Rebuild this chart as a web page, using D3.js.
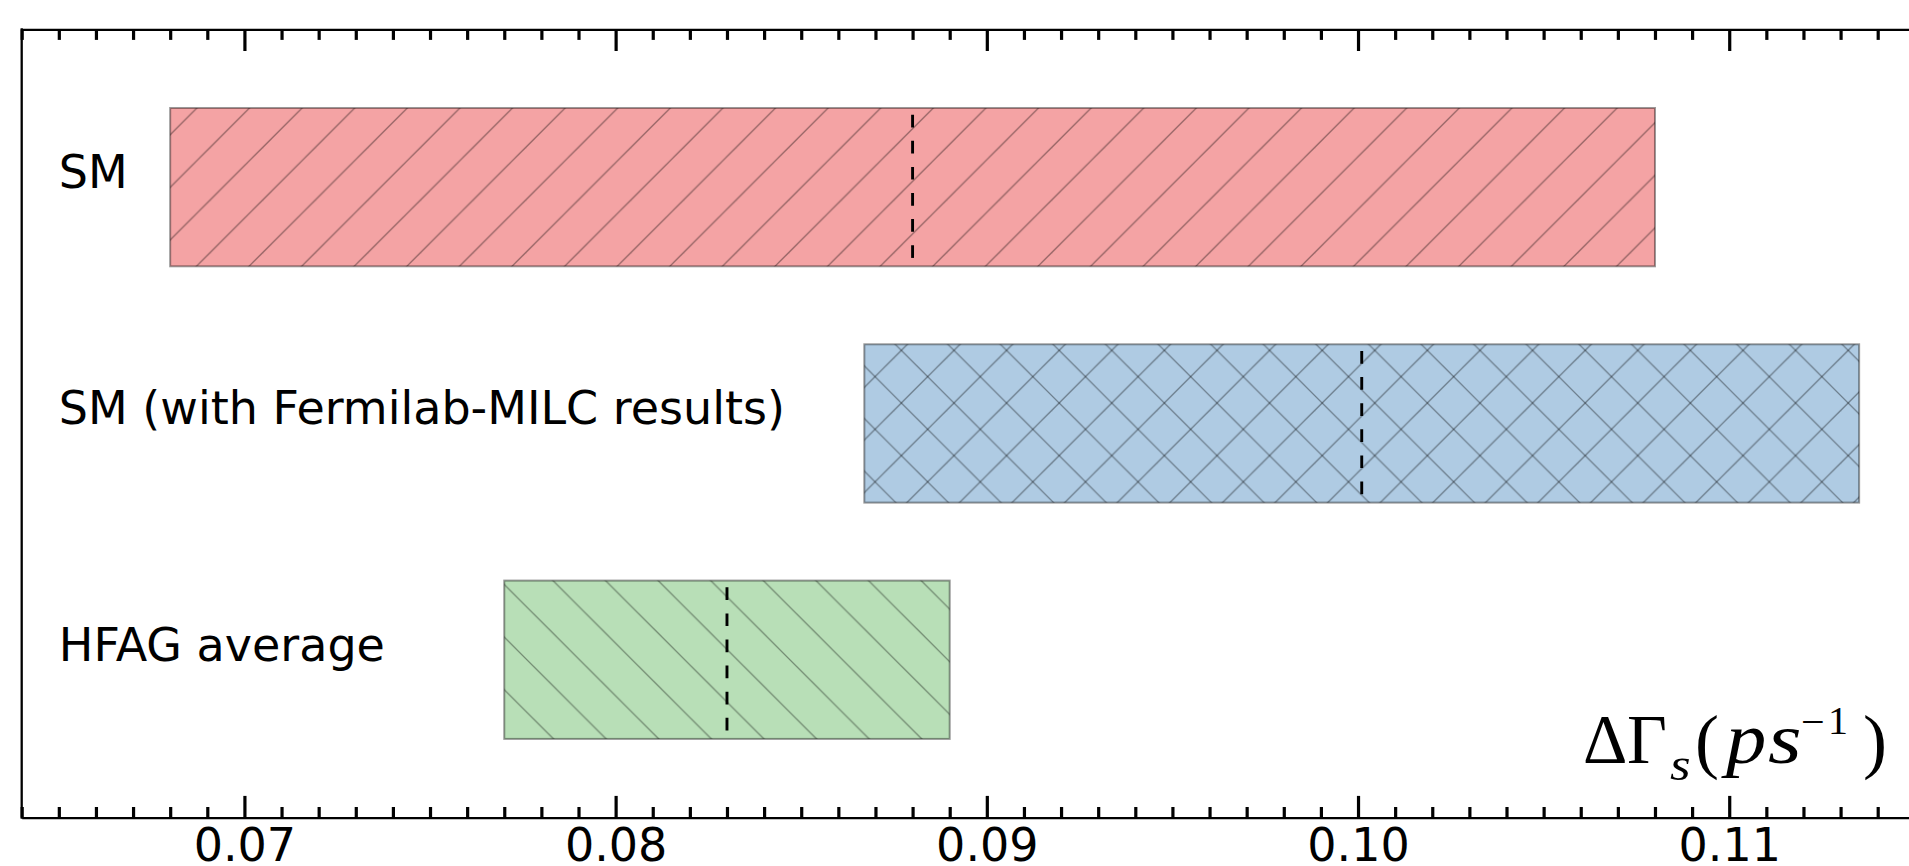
<!DOCTYPE html>
<html><head><meta charset="utf-8">
<script src="https://cdn.jsdelivr.net/npm/d3@7"></script>
<style>html,body{margin:0;padding:0;background:#fff;} svg{display:block;}</style>
</head><body>
<svg id="chart" width="1909" height="866"></svg>
<script>
// ---- data ----
const categories = ["SM", "SM (with Fermilab-MILC results)", "HFAG average"];
const centralValues = [0.088, 0.1001, 0.083];
const lowValues = [0.068, 0.0867, 0.077];
const highValues = [0.108, 0.1135, 0.089];
const barColors = ["#e41a1c", "#377eb8", "#4daf4a"];
const hatchStyles = ["/", "x", "\\"];
const majorTickValues = [0.07, 0.08, 0.09, 0.10, 0.11];
const tickLabels = ["0.07", "0.08", "0.09", "0.10", "0.11"];
const xDomain = [0.064, 0.115];
const labelX = 0.065;

// ---- layout ----
const svg = d3.select("#chart");
const plotLeft = 21.7, plotTop = 29.3, plotBottom = 817.6;
const pxPerMilli = 37.12;
const x = d3.scaleLinear().domain(xDomain).range([plotLeft, plotLeft + (xDomain[1]-xDomain[0])*1000*pxPerMilli]);
const y = d3.scaleBand().domain(categories).range([plotTop, plotBottom]).paddingInner(0.33).paddingOuter(0.333);
const bw = y.bandwidth();

// ---- hatch patterns ----
const P = 52.6;
const defs = svg.append("defs");
function addHatch(id, style) {
  const pat = defs.append("pattern").attr("id", id)
    .attr("patternUnits", "userSpaceOnUse").attr("width", P).attr("height", P);
  const dirs = style === "x" ? ["/", "\\"] : [style];
  dirs.forEach(dir => {
    [-1, 0, 1, 2].forEach(k => {
      let d;
      if (dir === "/") { const c = 41.9 + k*P - P; d = `M${-P},${c+P}L${2*P},${c-2*P}`; }
      else { const c = 25 + k*P - P; d = `M${-P},${-P-c}L${2*P},${2*P-c}`; }
      pat.append("path").attr("d", d).attr("stroke", "#000").attr("stroke-opacity", 0.38)
        .attr("stroke-width", 1.3).attr("fill", "none");
    });
  });
}
hatchStyles.forEach((h, i) => addHatch("hatch" + i, h));

// ---- bars ----
const rows = categories.map((c, i) => ({c, i, lo: lowValues[i], hi: highValues[i], mid: centralValues[i]}));
const g = svg.append("g");
g.selectAll("rect.fill").data(rows).join("rect").attr("class", "fill")
  .attr("x", d => x(d.lo)).attr("y", d => y(d.c)).attr("width", d => x(d.hi) - x(d.lo)).attr("height", bw)
  .attr("fill", d => barColors[d.i]).attr("fill-opacity", 0.4);
g.selectAll("rect.hatch").data(rows).join("rect").attr("class", "hatch")
  .attr("x", d => x(d.lo)).attr("y", d => y(d.c)).attr("width", d => x(d.hi) - x(d.lo)).attr("height", bw)
  .attr("fill", d => `url(#hatch${d.i})`);
g.selectAll("rect.edge").data(rows).join("rect").attr("class", "edge")
  .attr("x", d => x(d.lo)).attr("y", d => y(d.c)).attr("width", d => x(d.hi) - x(d.lo)).attr("height", bw)
  .attr("fill", "none").attr("stroke", "#000").attr("stroke-opacity", 0.4).attr("stroke-width", 2);
g.selectAll("line.mid").data(rows).join("line").attr("class", "mid")
  .attr("x1", d => x(d.mid)).attr("x2", d => x(d.mid))
  .attr("y1", d => y(d.c) + bw*(1-0.053)).attr("y2", d => y(d.c) + bw*0.040)
  .attr("stroke", "#000").attr("stroke-width", 2.9).attr("stroke-dasharray", "12.7,13.4");

// ---- category labels ----
svg.selectAll("text.cat").data(rows).join("text").attr("class", "cat")
  .attr("x", x(labelX)).attr("y", d => y(d.c) + bw/2 + 1)
  .attr("font-family", "DejaVu Sans").attr("font-size", 46).attr("fill", "#000")
  .text(d => d.c);

// ---- axes ----
const minorTickValues = d3.range(64, 116).map(v => v/1000)
  .filter(v => !majorTickValues.some(m => Math.abs(m - v) < 1e-9));

function styleAxis(sel) {
  sel.selectAll(".tick line").attr("stroke", "#000").attr("stroke-width", 3.2);
  sel.select(".domain").attr("stroke", "#000").attr("stroke-width", 2.3);
  sel.selectAll("text").attr("font-family", "DejaVu Sans").attr("font-size", 46).attr("fill", "#000");
}
const bottomMinor = svg.append("g").attr("transform", `translate(0,${plotBottom})`)
  .call(d3.axisBottom(x).tickValues(minorTickValues).tickFormat("").tickSizeInner(-10.6).tickSizeOuter(0));
bottomMinor.select(".domain").remove(); styleAxis(bottomMinor);
const bottomMajor = svg.append("g").attr("transform", `translate(0,${plotBottom})`)
  .call(d3.axisBottom(x).tickValues(majorTickValues).tickFormat((d, i) => tickLabels[i])
    .tickSizeInner(-21.7).tickSizeOuter(0).tickPadding(10.5));
styleAxis(bottomMajor);
const topMinor = svg.append("g").attr("transform", `translate(0,${plotTop})`)
  .call(d3.axisTop(x).tickValues(minorTickValues).tickFormat("").tickSizeInner(-10.6).tickSizeOuter(0));
topMinor.select(".domain").remove(); styleAxis(topMinor);
const topMajor = svg.append("g").attr("transform", `translate(0,${plotTop})`)
  .call(d3.axisTop(x).tickValues(majorTickValues).tickFormat("").tickSizeInner(-21.7).tickSizeOuter(0));
styleAxis(topMajor);
svg.append("line").attr("x1", plotLeft).attr("x2", plotLeft).attr("y1", plotTop - 1.15).attr("y2", plotBottom + 1.15)
  .attr("stroke", "#000").attr("stroke-width", 2.3);

// ---- x-axis label: ΔΓs (ps^-1) ----
const xl = svg.append("g").attr("font-family", "Liberation Serif").attr("fill", "#000");
const parts = [
  {t: "Δ", x: 1583, y: 763, s: 69, it: false, sx: 1},
  {t: "Γ", x: 1627, y: 763, s: 69, it: false, sx: 1},
  {t: "s", x: 1670, y: 780, s: 46, it: true, sx: 1.15},
  {t: "(", x: 1695, y: 765, s: 72, it: false, sx: 1},
  {t: "p", x: 1726, y: 763, s: 72, it: true, sx: 1.12},
  {t: "s", x: 1768, y: 763, s: 72, it: true, sx: 1.2},
  {t: "−", x: 1801, y: 736, s: 42, it: false, sx: 1},
  {t: "1", x: 1828, y: 734, s: 40, it: false, sx: 1},
  {t: ")", x: 1863, y: 765, s: 72, it: false, sx: 1}
];
xl.selectAll("text").data(parts).join("text")
  .attr("transform", d => `translate(${d.x},${d.y}) scale(${d.sx},1)`)
  .attr("font-size", d => d.s)
  .attr("font-style", d => d.it ? "italic" : "normal").text(d => d.t);
</script>
</body></html>
